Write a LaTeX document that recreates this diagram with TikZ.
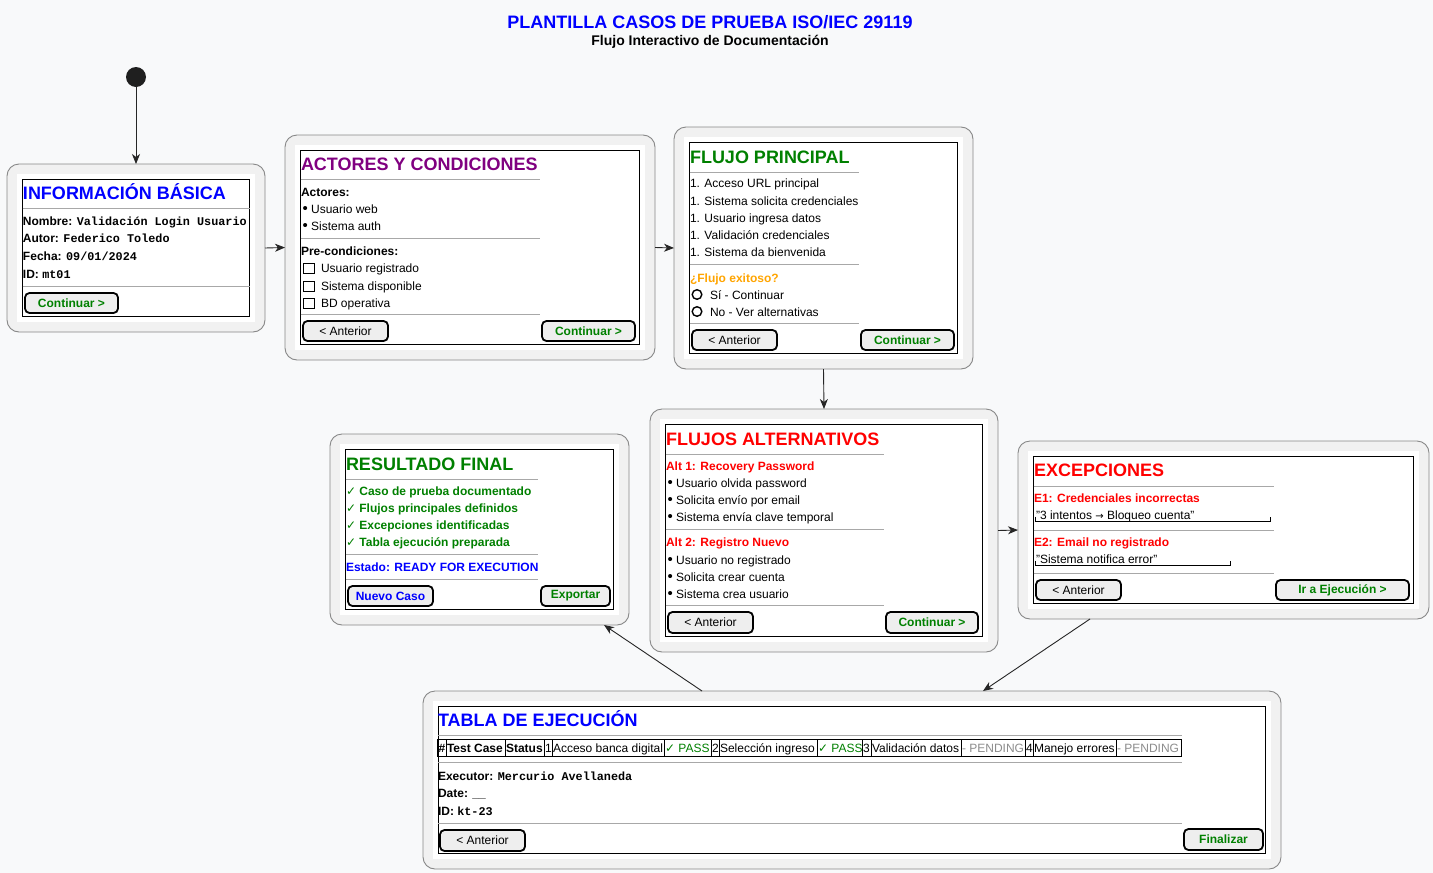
\documentclass[tikz,border=0pt]{standalone}
\usepackage{fontspec}
\setmainfont{Liberation Sans}
\setmonofont{Liberation Mono}
\newfontfamily\symf{DejaVu Sans}
\usetikzlibrary{arrows.meta,calc}
\definecolor{bgc}{HTML}{F8F9FA}
\definecolor{ofill}{HTML}{F1F1F1}
\definecolor{obord}{HTML}{888888}
\definecolor{sepc}{HTML}{A8A8A8}
\definecolor{btnf}{HTML}{EEEEEE}
\definecolor{cblue}{HTML}{0000FF}
\definecolor{cpurple}{HTML}{800080}
\definecolor{cgreen}{HTML}{008000}
\definecolor{cred}{HTML}{FF0000}
\definecolor{corange}{HTML}{FFA500}
\definecolor{cgray}{HTML}{8C8C8C}
\tikzset{
 outerbox/.style={draw=obord, fill=ofill, rounded corners=12pt, line width=0.9pt, inner sep=0pt, outer sep=0pt},
 sepl/.style={draw=sepc, line width=0.8pt},
 tx/.style={anchor=base west, inner sep=0pt, outer sep=0pt, font=\fontsize{12}{14}\selectfont},
 ttl/.style={anchor=base west, inner sep=0pt, outer sep=0pt, font=\bfseries\fontsize{18}{21}\selectfont},
 btn/.style={draw=black, line width=1.8pt, fill=btnf, rounded corners=4.5pt, inner sep=0pt, font=\fontsize{12}{14}\selectfont},
 arr/.style={draw=black!85, line width=0.9pt, -{Stealth[length=10pt,width=8pt,inset=3pt]}},
 chk/.style={line width=1pt},
}
\newcommand\mkpanel[5]{%
 \node[outerbox, anchor=north west, minimum width={(#4-#2)*1pt}, minimum height={(#5-#3)*1pt}] (#1) at (#2,#3) {};
 \fill[white] (#2+10,#3+10) rectangle (#4-10,#5-10);
 \draw[line width=1pt] (#2+15.5,#3+15.5) rectangle (#4-15.5,#5-15.5);
}
\newcommand\mkbtn[6]{%
 \node[btn, minimum width={(#4-#2)*1pt}, minimum height={(#5-#3)*1pt}] (#1) at ({(#2+#4)/2},{(#3+#5)/2}) {#6};
}
\newcommand\mono[1]{{\ttfamily\bfseries\fontsize{11.8}{14}\selectfont #1}}
\newcommand\ck{{\symf\fontsize{12}{14}\selectfont\mdseries ✓}}
\newcommand\bul{{\fontsize{15}{14}\selectfont •}}
\begin{document}
\begin{tikzpicture}[x=1pt,y=-1pt]
\fill[bgc] (0,0) rectangle (1433,873);
\useasboundingbox (0,0) rectangle (1433,873);

% title
\node[font=\bfseries\fontsize{18}{21}\selectfont, text=cblue, inner sep=0pt] (title) at (710,22) {PLANTILLA CASOS DE PRUEBA ISO/IEC 29119};
\node[font=\bfseries\fontsize{14}{16}\selectfont, inner sep=0pt] (subtitle) at (710,42) {Flujo Interactivo de Documentación};

% start
\node[circle, fill=black!88, minimum size=20pt, inner sep=0pt, outer sep=0pt] (start) at (136,77) {};

% ---------- Box 1
\mkpanel{b1}{7}{164}{265}{332}
\node[ttl, text=cblue] (b1t) at (23,199) {INFORMACIÓN BÁSICA};
\draw[sepl] (22.5,208.5) -- (249.5,208.5);
\node[tx] (b1l1) at (23,225.5) {\textbf{Nombre:} \mono{Validación Login Usuario}};
\node[tx] (b1l2) at (23,242.5) {\textbf{Autor:} \mono{Federico Toledo}};
\node[tx] (b1l3) at (23,260.5) {\textbf{Fecha:} \mono{09/01/2024}};
\node[tx] (b1l4) at (23,278.5) {\textbf{ID:} \mono{mt01}};
\draw[sepl] (22.5,286) -- (249.5,286);
\mkbtn{b1c}{25}{293}{118}{313}{\textcolor{cgreen}{\bfseries Continuar >}}

% ---------- Box 2
\mkpanel{b2}{285}{135}{655}{360}
\node[ttl, text=cpurple] (b2t) at (301,170) {ACTORES Y CONDICIONES};
\draw[sepl] (300.5,179.5) -- (540,179.5);
\node[tx] (b2l1) at (301,196) {\textbf{Actores:}};
\node[tx] (b2l2) at (302.5,213) {\bul\ Usuario web};
\node[tx] (b2l3) at (302.5,230) {\bul\ Sistema auth};
\draw[sepl] (300.5,238) -- (540,238);
\node[tx] (b2l4) at (301,255) {\textbf{Pre-condiciones:}};
\draw[chk] (303,263) rectangle (314,273);
\draw[chk] (303,281) rectangle (314,291);
\draw[chk] (303,298) rectangle (314,308);
\node[tx] (b2l5) at (321,272) {Usuario registrado};
\node[tx] (b2l6) at (321,290) {Sistema disponible};
\node[tx] (b2l7) at (321,307) {BD operativa};
\draw[sepl] (300.5,314) -- (540,314);
\mkbtn{b2a}{303}{321}{388}{341}{< Anterior}
\mkbtn{b2c}{542}{321}{635}{341}{\textcolor{cgreen}{\bfseries Continuar >}}

% ---------- Box 3
\mkpanel{b3}{674}{127}{973}{369}
\node[ttl, text=cgreen] (b3t) at (690,163) {FLUJO PRINCIPAL};
\draw[sepl] (689.5,172) -- (859,172);
\node[tx] (b3l1) at (690,187) {1. Acceso URL principal};
\node[tx] (b3l2) at (690,205) {1. Sistema solicita credenciales};
\node[tx] (b3l3) at (690,222) {1. Usuario ingresa datos};
\node[tx] (b3l4) at (690,239) {1. Validación credenciales};
\node[tx] (b3l5) at (690,256) {1. Sistema da bienvenida};
\draw[sepl] (689.5,264) -- (859,264);
\node[tx, text=corange] (b3q) at (690,282) {\textbf{¿Flujo exitoso?}};
\draw[line width=1.4pt] (697,294.5) circle (4.8);
\draw[line width=1.4pt] (697,311.5) circle (4.8);
\node[tx] (b3r1) at (710,299) {Sí - Continuar};
\node[tx] (b3r2) at (710,316) {No - Ver alternativas};
\draw[sepl] (689.5,323) -- (859,323);
\mkbtn{b3a}{692}{330}{777}{350}{< Anterior}
\mkbtn{b3c}{861}{330}{954}{350}{\textcolor{cgreen}{\bfseries Continuar >}}

% ---------- Box 4
\mkpanel{b4}{650}{409}{998}{652}
\node[ttl, text=cred] (b4t) at (666,445) {FLUJOS ALTERNATIVOS};
\draw[sepl] (665.5,454) -- (884,454);
\node[tx, text=cred] (b4h1) at (666,470) {\textbf{Alt 1: Recovery Password}};
\node[tx] (b4l1) at (667.5,487) {\bul\ Usuario olvida password};
\node[tx] (b4l2) at (667.5,504) {\bul\ Solicita envío por email};
\node[tx] (b4l3) at (667.5,521) {\bul\ Sistema envía clave temporal};
\draw[sepl] (665.5,529) -- (884,529);
\node[tx, text=cred] (b4h2) at (666,546) {\textbf{Alt 2: Registro Nuevo}};
\node[tx] (b4l4) at (667.5,564) {\bul\ Usuario no registrado};
\node[tx] (b4l5) at (667.5,581) {\bul\ Solicita crear cuenta};
\node[tx] (b4l6) at (667.5,598) {\bul\ Sistema crea usuario};
\draw[sepl] (665.5,605) -- (884,605);
\mkbtn{b4a}{668}{612}{753}{633}{< Anterior}
\mkbtn{b4c}{886}{612}{978}{633}{\textcolor{cgreen}{\bfseries Continuar >}}

% ---------- Box 5
\mkpanel{b5}{1018}{441}{1429}{619}
\node[ttl, text=cred] (b5t) at (1034,476) {EXCEPCIONES};
\draw[sepl] (1033.5,486) -- (1274,486);
\node[tx, text=cred] (b5h1) at (1034,502) {\textbf{E1: Credenciales incorrectas}};
\node[tx] (b5q1) at (1036,519) {"3 intentos {\symf\fontsize{10}{12}\selectfont →} Bloqueo cuenta"};
\draw[line width=1pt] (1035,516.5) -- (1035,521.5) -- (1270,521.5) -- (1270,516.5);
\draw[sepl] (1033.5,530) -- (1274,530);
\node[tx, text=cred] (b5h2) at (1034,546) {\textbf{E2: Email no registrado}};
\node[tx] (b5q2) at (1036,563) {"Sistema notifica error"};
\draw[line width=1pt] (1035,560.5) -- (1035,565.5) -- (1230,565.5) -- (1230,560.5);
\draw[sepl] (1033.5,573) -- (1274,573);
\mkbtn{b5a}{1036}{580}{1121}{600}{< Anterior}
\mkbtn{b5c}{1276}{580}{1409}{600}{\textcolor{cgreen}{\bfseries Ir a Ejecución >}}

% ---------- Box 6
\mkpanel{b6}{330}{434}{629}{625}
\node[ttl, text=cgreen] (b6t) at (346,470) {RESULTADO FINAL};
\draw[sepl] (345.5,479) -- (538,479);
\node[tx, text=cgreen] (b6l1) at (346,495) {\ck\ \textbf{Caso de prueba documentado}};
\node[tx, text=cgreen] (b6l2) at (346,512) {\ck\ \textbf{Flujos principales definidos}};
\node[tx, text=cgreen] (b6l3) at (346,529) {\ck\ \textbf{Excepciones identificadas}};
\node[tx, text=cgreen] (b6l4) at (346,546) {\ck\ \textbf{Tabla ejecución preparada}};
\draw[sepl] (345.5,554) -- (538,554);
\node[tx, text=cblue] (b6e) at (346,571) {\textbf{Estado: READY FOR EXECUTION}};
\draw[sepl] (345.5,579) -- (538,579);
\mkbtn{b6a}{348}{586}{433}{606}{\textcolor{cblue}{\bfseries Nuevo Caso}}
\mkbtn{b6c}{541}{586}{610}{606}{\textcolor{cgreen}{\bfseries Exportar}}

% ---------- Box 7
\mkpanel{b7}{423}{691}{1281}{869}
\node[ttl, text=cblue] (b7t) at (438,726) {TABLA DE EJECUCIÓN};
\draw[sepl] (437.5,735) -- (1182,735);
\foreach \a/\b/\t [count=\i] in {437.5/446/{\textbf{\#}}, 446/505/{\textbf{Test Case}}, 505/544/{\textbf{Status}}, 544/552/{1}, 552/664/{Acceso banca digital}, 664/711/{\textcolor{cgreen}{\ck\ PASS}}, 711/719/{2}, 719/817/{Selección ingreso}, 817/862/{\textcolor{cgreen}{\ck\ PASS}}, 862/871/{3}, 871/961/{Validación datos}, 961/1025/{\textcolor{cgray}{- PENDING}}, 1025/1033/{4}, 1033/1116/{Manejo errores}, 1116/1181/{\textcolor{cgray}{- PENDING}}} {
  \draw[line width=0.9pt] (\a,739.5) rectangle (\b,756.5);
  \node[tx] (c\i) at (\a+1,752) {\t};
}
\draw[sepl] (437.5,762) -- (1182,762);
\node[tx] (b7l1) at (438,780) {\textbf{Executor:} \mono{Mercurio Avellaneda}};
\node[tx] (b7l2) at (438,797) {\textbf{Date: \_\_}};
\node[tx] (b7l3) at (438,815) {\textbf{ID:} \mono{kt-23}};
\draw[sepl] (437.5,823) -- (1182,823);
\mkbtn{b7a}{440}{830}{525}{851}{< Anterior}
\mkbtn{b7c}{1184}{829}{1263}{850}{\textcolor{cgreen}{\bfseries Finalizar}}

% ---------- connectors
\draw[arr] (start) -- (b1);
\draw[arr] (b1.east) -- (b2.west);
\draw[arr] (b2.east) -- (b3.west);
\draw[arr] (b3.south) -- (b4.north);
\draw[arr] (b4.east) -- (b5.west);
\draw[arr] ([xshift=72pt]b5.south west) -- ([xshift=560pt]b7.north west);
\draw[arr] ([xshift=279pt]b7.north west) -- ([xshift=274pt]b6.south west);
\end{tikzpicture}
\end{document}
